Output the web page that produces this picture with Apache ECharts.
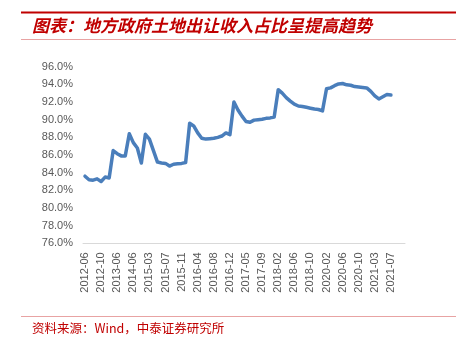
<!DOCTYPE html>
<html><head><meta charset="utf-8">
<script src="https://cdn.jsdelivr.net/npm/echarts@6/dist/echarts.min.js"></script>
<style>html,body{margin:0;padding:0;background:#fff}#c{width:456px;height:348px}</style>
</head><body><div id="c"></div>
<script>
var titleText = '图表：地方政府土地出让收入占比呈提高趋势';
var sourceText = '资料来源：Wind，中泰证券研究所';
var categories = [
 '2012-06','2012-07','2012-08','2012-09','2012-10','2012-11','2012-12','2013-03',
 '2013-06','2013-09','2013-12','2014-03','2014-06','2014-09','2014-12','2015-02',
 '2015-03','2015-04','2015-05','2015-06','2015-07','2015-08','2015-09','2015-10',
 '2015-11','2015-12','2016-02','2016-03','2016-04','2016-05','2016-06','2016-07',
 '2016-08','2016-09','2016-10','2016-11','2016-12','2017-02','2017-03','2017-04',
 '2017-05','2017-06','2017-07','2017-08','2017-09','2017-10','2017-11','2017-12',
 '2018-02','2018-03','2018-04','2018-05','2018-06','2018-07','2018-08','2018-09',
 '2018-10','2018-11','2018-12','2019-12','2020-02','2020-03','2020-04','2020-05',
 '2020-06','2020-07','2020-08','2020-09','2020-10','2020-11','2020-12','2021-02',
 '2021-03','2021-04','2021-05','2021-06','2021-07'
];
var shareValues = [
 83.6,83.2,83.15,83.3,83.0,83.5,83.4,86.5,
 86.15,85.9,85.9,88.4,87.4,86.8,85.1,88.35,
 87.8,86.5,85.2,85.1,85.05,84.75,84.95,85.0,
 85.05,85.15,89.6,89.3,88.5,87.9,87.8,87.85,
 87.9,88.0,88.15,88.5,88.3,92.0,91.1,90.4,
 89.8,89.7,89.95,90.0,90.05,90.15,90.2,90.3,
 93.4,93.0,92.5,92.1,91.75,91.55,91.5,91.4,
 91.3,91.2,91.15,91.0,93.5,93.6,93.85,94.05,
 94.1,93.95,93.9,93.75,93.7,93.65,93.6,93.2,
 92.7,92.35,92.6,92.85,92.8
];
var yTicks = [76,78,80,82,84,86,88,90,92,94,96];

var chart = echarts.init(document.getElementById('c'));
chart.setOption({
  animation: false,
  backgroundColor: '#ffffff',
  grid: {left: 83, right: 51, top: 66.7, bottom: 104.7, containLabel: false},
  xAxis: {
    type: 'category',
    data: categories,
    boundaryGap: true,
    max: categories.length + 2,
    axisLine: {lineStyle: {color: '#D9D9D9', width: 1}},
    axisTick: {show: false},
    axisLabel: {
      interval: 3, rotate: 90, margin: 9, color: '#595959', fontSize: 11,
      fontFamily: 'Liberation Sans, Arial, sans-serif'
    },
    splitLine: {show: false}
  },
  yAxis: {
    type: 'value',
    min: yTicks[0], max: yTicks[yTicks.length - 1], interval: 2,
    axisLine: {show: false},
    axisTick: {show: false},
    splitLine: {show: false},
    axisLabel: {
      color: '#595959', fontSize: 11, margin: 10,
      fontFamily: 'Liberation Sans, Arial, sans-serif',
      formatter: function (v) { return v.toFixed(1) + '%'; }
    }
  },
  series: [{
    type: 'line',
    data: shareValues,
    showSymbol: false,
    symbol: 'none',
    lineStyle: {color: '#4A7EBB', width: 3.5, cap: 'round', join: 'round'},
    itemStyle: {color: '#4A7EBB'}
  }],
  graphic: [
    {type: 'line', shape: {x1: 21, y1: 12.5, x2: 456, y2: 12.5}, style: {stroke: '#C00000', lineWidth: 2}},
    {type: 'text', left: 32, top: 17, style: {text: titleText, fill: '#C00000', font: 'italic bold 17px "Noto Sans CJK SC", sans-serif'}},
    {type: 'line', shape: {x1: 21, y1: 39.5, x2: 456, y2: 39.5}, style: {stroke: '#E8A3A3', lineWidth: 1}},
    {type: 'line', shape: {x1: 21, y1: 316.5, x2: 456, y2: 316.5}, style: {stroke: '#E8A3A3', lineWidth: 1}},
    {type: 'text', left: 32, top: 322, style: {text: sourceText, fill: '#C00000', font: '12.5px "Noto Sans CJK SC", sans-serif'}}
  ]
});
</script></body></html>
